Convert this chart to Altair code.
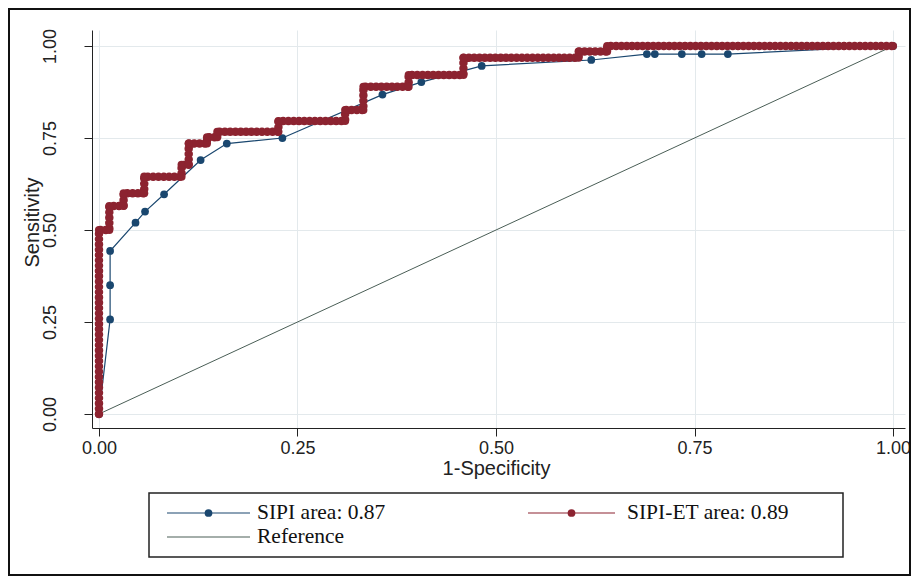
import altair as alt
import pandas as pd

# ---- data ----
# SIPI ROC curve (navy, sparse cut-points)
sipi_fpr = [0.0, 0.014, 0.014, 0.014, 0.046, 0.058, 0.082, 0.128, 0.161, 0.231,
            0.357, 0.406, 0.482, 0.620, 0.690, 0.700, 0.734, 0.759, 0.792, 1.0]
sipi_tpr = [0.0, 0.257, 0.350, 0.443, 0.520, 0.550, 0.597, 0.690, 0.735, 0.750,
            0.868, 0.902, 0.946, 0.962, 0.978, 0.978, 0.978, 0.978, 0.978, 1.0]

# SIPI-ET ROC curve (maroon, step curve corners)
et_fpr = [0.0, 0.0, 0.013, 0.013, 0.031, 0.031, 0.057, 0.057, 0.104, 0.104,
          0.113, 0.113, 0.136, 0.136, 0.149, 0.149, 0.226, 0.226, 0.310, 0.310,
          0.333, 0.333, 0.390, 0.390, 0.459, 0.459, 0.604, 0.604, 0.640, 0.640, 1.0]
et_tpr = [0.0, 0.500, 0.500, 0.565, 0.565, 0.600, 0.600, 0.645, 0.645, 0.677,
          0.677, 0.735, 0.735, 0.752, 0.752, 0.767, 0.767, 0.796, 0.796, 0.826,
          0.826, 0.889, 0.889, 0.921, 0.921, 0.968, 0.968, 0.985, 0.985, 1.0, 1.0]

ref_x = [0.0, 1.0]
ref_y = [0.0, 1.0]

tick_values = [0.0, 0.25, 0.5, 0.75, 1.0]
legend_labels = ["SIPI area: 0.87", "SIPI-ET area: 0.89", "Reference"]

NAVY = "#1A476F"
MAROON = "#8C2330"
REFC = "#4a5e56"

sipi = pd.DataFrame({"fpr": sipi_fpr, "tpr": sipi_tpr, "i": range(len(sipi_fpr))})
et = pd.DataFrame({"fpr": et_fpr, "tpr": et_tpr, "i": range(len(et_fpr))})
ref = pd.DataFrame({"fpr": ref_x, "tpr": ref_y, "i": range(len(ref_x))})
one = pd.DataFrame({"k": [0]})

# plot area: page x 92..905 (x=0 at 99, x=1 at 892); page y 30..428
xdom = [-0.0088, 1.0151]
ydom = [-0.038, 1.0435]

x_enc = alt.X("fpr:Q", scale=alt.Scale(domain=xdom, nice=False, zero=False),
              axis=alt.Axis(values=tick_values, format=".2f", title="1-Specificity",
                            titleX=404, titleY=40, titleBaseline="middle", titleAlign="center",
                            labelPadding=3))
y_enc = alt.Y("tpr:Q", scale=alt.Scale(domain=ydom, nice=False, zero=False),
              axis=alt.Axis(values=tick_values, format=".2f", title="Sensitivity",
                            labelAngle=-90, labelAlign="center", labelBaseline="bottom",
                            labelPadding=25,
                            titleX=-60, titleY=192, titleBaseline="middle", titleAlign="center",
                            titleAngle=-90))

base_ref = alt.Chart(ref).mark_line(color=REFC, strokeWidth=1).encode(
    x=x_enc, y=y_enc, order="i:Q")

sipi_line = alt.Chart(sipi).mark_line(color=NAVY, strokeWidth=1.2).encode(
    x="fpr:Q", y="tpr:Q", order="i:Q")
sipi_pts = alt.Chart(sipi).mark_point(filled=True, color=NAVY, size=60, opacity=1,
                                      shape="circle").encode(x="fpr:Q", y="tpr:Q")

et_line = alt.Chart(et).mark_line(color=MAROON, strokeWidth=1.2).encode(
    x="fpr:Q", y="tpr:Q", order="i:Q")
et_beads = alt.Chart(et).mark_line(color=MAROON, strokeWidth=8.5, strokeCap="round",
                                   strokeJoin="round", strokeDash=[0.1, 5.2]).encode(
    x="fpr:Q", y="tpr:Q", order="i:Q")
et_pts = alt.Chart(et).mark_point(filled=True, color=MAROON, size=65, opacity=1,
                                  shape="circle").encode(x="fpr:Q", y="tpr:Q")

# ---- legend (drawn by hand, Stata style) ----
LX0, LX1, LY0, LY1 = 57, 751, 463, 527
R1, R2 = 483, 507
leg_box = alt.Chart(one).mark_rect(fill="white", stroke="#222", strokeWidth=1.5).encode(
    x=alt.value(LX0), x2=alt.value(LX1), y=alt.value(LY0), y2=alt.value(LY1))

def leg_line(x0, x1, yy, color):
    return alt.Chart(one).mark_rule(color=color, strokeWidth=1.2).encode(
        x=alt.value(x0), x2=alt.value(x1), y=alt.value(yy))

def leg_dot(xx, yy, color):
    return alt.Chart(one).mark_point(filled=True, color=color, size=60, opacity=1).encode(
        x=alt.value(xx), y=alt.value(yy))

def leg_text(xx, yy, label):
    return alt.Chart(one).mark_text(align="left", baseline="middle", font="Liberation Serif",
                                    fontSize=21.5, color="#111").encode(
        x=alt.value(xx), y=alt.value(yy), text=alt.value(label))

legend = [
    leg_box,
    leg_line(75, 158, R1, NAVY), leg_dot(116.5, R1, NAVY), leg_text(165, R1, legend_labels[0]),
    leg_line(436, 523, R1, MAROON), leg_dot(479.5, R1, MAROON), leg_text(535, R1, legend_labels[1]),
    leg_line(75, 158, R2, REFC), leg_text(165, R2, legend_labels[2]),
]

frame = alt.Chart(one).mark_rect(filled=False, stroke="#111", strokeWidth=2).encode(
    x=alt.value(-83), x2=alt.value(818), y=alt.value(-21), y2=alt.value(545))

chart = alt.layer(base_ref, sipi_line, sipi_pts, et_line, et_beads, et_pts, *legend, frame).properties(
    width=813, height=398,
    autosize=alt.AutoSizeParams(type="none"),
    padding={"left": 84, "top": 22, "right": 6, "bottom": 148},
).configure_view(stroke=None).configure_axis(
    grid=True, gridColor="#e3e9ec", gridWidth=1,
    domainColor="#222", tickColor="#222", tickSize=8, domainWidth=1,
    labelFont="Liberation Sans", labelFontSize=18, labelColor="#222",
    titleFont="Liberation Sans", titleFontSize=20, titleColor="#222", titleFontWeight="normal",
)

chart.save("out.html", embed_options={"renderer": "svg", "actions": False})
